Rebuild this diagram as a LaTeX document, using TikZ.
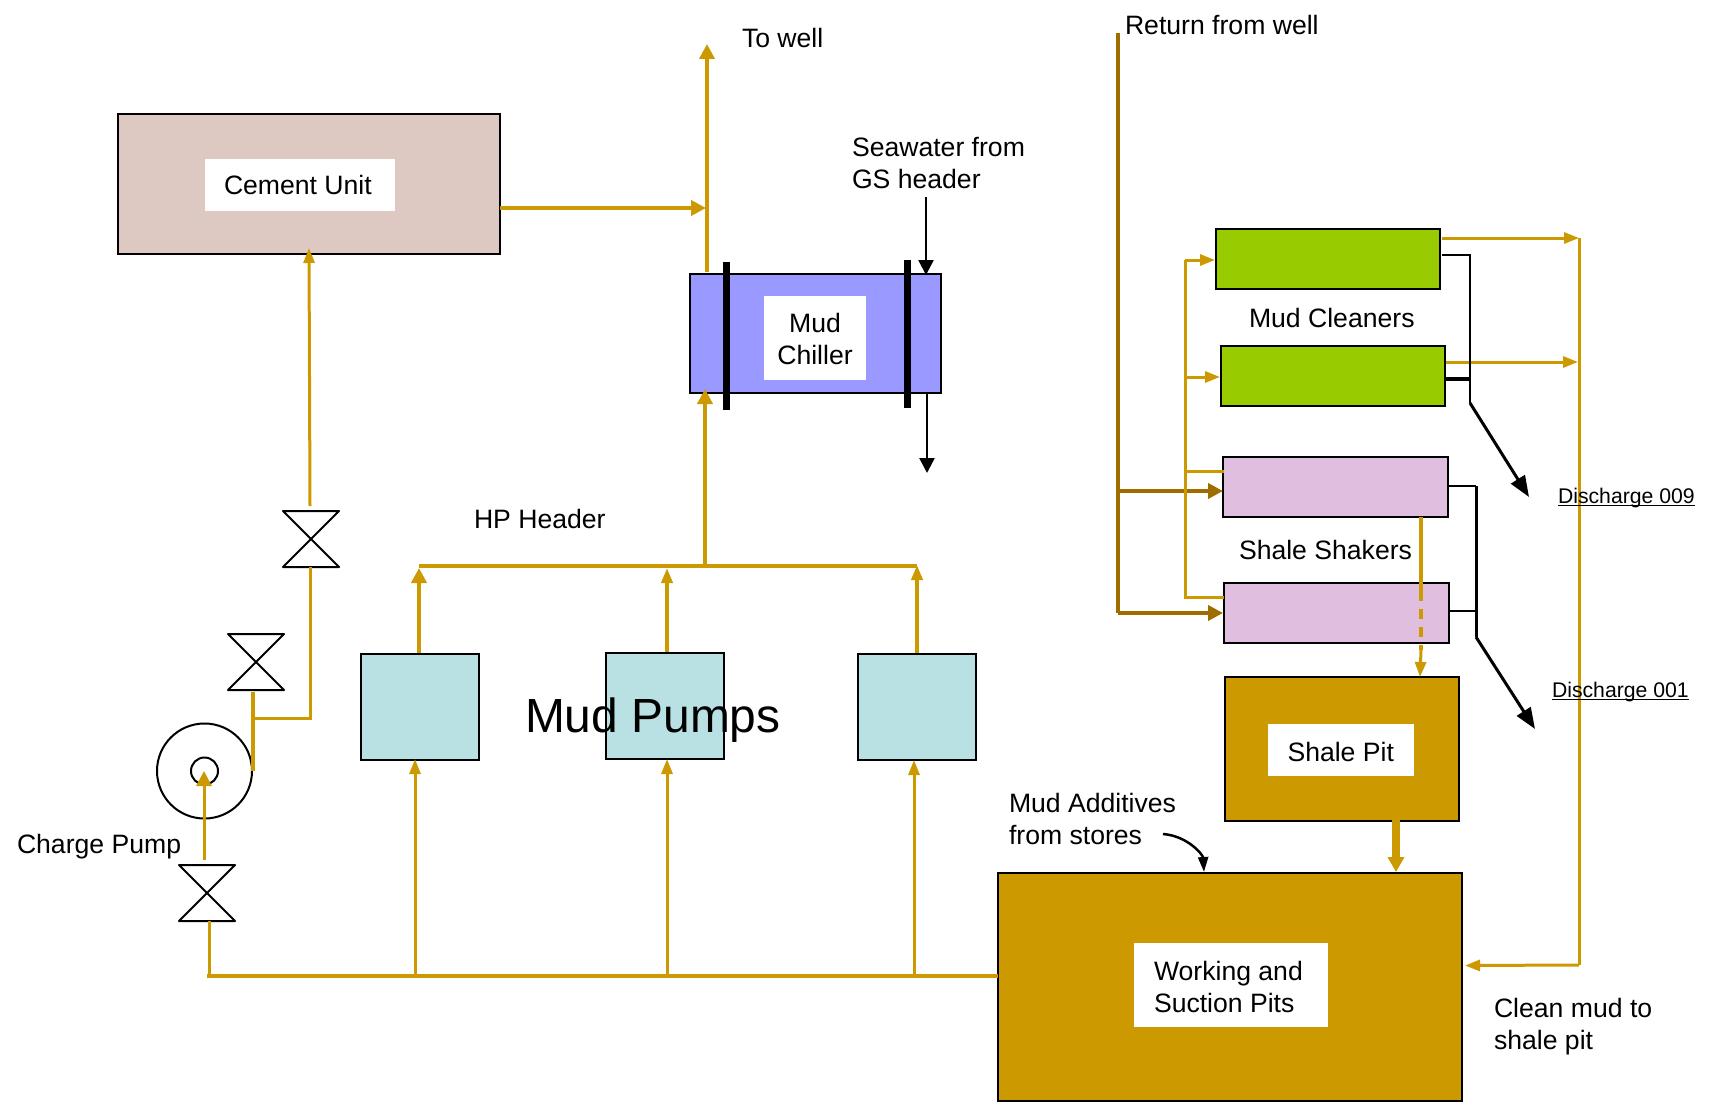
\documentclass[tikz,border=0pt]{standalone}
\usepackage{fontspec}
\setmainfont{Liberation Sans}
\usetikzlibrary{arrows.meta}
\definecolor{gold}{HTML}{CC9900}
\definecolor{brownline}{HTML}{A06C00}
\definecolor{cementc}{HTML}{DDC9C2}
\definecolor{chillerc}{HTML}{9999FF}
\definecolor{pumpc}{HTML}{B9E0E2}
\definecolor{cleanerc}{HTML}{99CC00}
\definecolor{shakerc}{HTML}{E0BEE0}
\tikzset{
  box/.style={draw=black,line width=2pt,inner sep=0pt,outer sep=0pt},
  whitebox/.style={fill=white,inner sep=0pt,outer sep=0pt},
  lbl/.style={inner sep=0pt,outer sep=0pt,anchor=base west,font=\fontsize{26.6}{32}\selectfont,align=left},
  dis/.style={inner sep=0pt,outer sep=0pt,anchor=base west,font=\fontsize{21.2}{25}\selectfont},
  underl/.style={draw=black,line width=1.5pt},
  goldthin/.style={draw=gold,line width=3pt},
  goldthick/.style={draw=gold,line width=4pt},
  brownpipe/.style={draw=brownline,line width=4.5pt},
  blackpipe/.style={draw=black,line width=2.5pt},
  headS/.style={-{Triangle[length=15pt,width=11pt]}},
  headL/.style={-{Triangle[length=15pt,width=15pt]}},
  headB/.style={-{Triangle[length=21pt,width=16pt]}},
  valveshape/.style={draw=black,line width=2pt,line join=round},
  chillerbar/.style={draw=black,line width=7pt},
}
\begin{document}
\begin{tikzpicture}[x=1pt,y=-1pt]
\useasboundingbox (0,0) rectangle (1712,1110);
% equipment
\node[box,fill=cementc,minimum width=382pt,minimum height=140pt] (cement) at (308.5,184) {};
\node[whitebox,minimum width=190pt,minimum height=52pt] (cementbg) at (300,185) {};
\node[box,fill=chillerc,minimum width=251pt,minimum height=119pt] (chiller) at (815,333) {};
\node[whitebox,minimum width=102pt,minimum height=84pt] (chillerbg) at (815,338) {};
\node[box,fill=pumpc,minimum width=118pt,minimum height=106pt] (pumpA) at (419.5,707) {};
\node[box,fill=pumpc,minimum width=118pt,minimum height=106pt] (pumpB) at (664.5,706) {};
\node[box,fill=pumpc,minimum width=118pt,minimum height=106pt] (pumpC) at (916.5,707) {};
\node[box,fill=cleanerc,minimum width=224pt,minimum height=60pt] (cleanerA) at (1328,259) {};
\node[box,fill=cleanerc,minimum width=224pt,minimum height=60pt] (cleanerB) at (1333,376) {};
\node[box,fill=shakerc,minimum width=225pt,minimum height=60pt] (shakerA) at (1335,487) {};
\node[box,fill=shakerc,minimum width=225pt,minimum height=60pt] (shakerB) at (1336,613) {};
\node[box,fill=gold,minimum width=234pt,minimum height=144pt] (shalepit) at (1341.5,748.5) {};
\node[whitebox,minimum width=146pt,minimum height=52pt] (shalepitbg) at (1341,750) {};
\node[box,fill=gold,minimum width=464pt,minimum height=228pt] (workpit) at (1229.5,986.5) {};
\node[whitebox,minimum width=194pt,minimum height=84pt] (workpitbg) at (1231,985) {};
\node[lbl] (cementlbl) at (224,194.5) {Cement Unit};
\node[lbl,align=center,anchor=base] (chillerlbl) at (815,364) {Mud\\Chiller};
\node[lbl] (shalepitlbl) at (1287.5,761) {Shale Pit};
\node[lbl] (workpitlbl) at (1154,1012) {Working and\\Suction Pits};
% chiller bars
\coordinate (barAt) at (726.5,262); \coordinate (barAb) at (726.5,410);
\coordinate (barBt) at (907.5,260); \coordinate (barBb) at (907.5,408);
\draw[chillerbar] (barAt) -- (barAb);
\draw[chillerbar] (barBt) -- (barBb);
% pump symbol
\node[draw=black,line width=2pt,circle,minimum size=95pt,inner sep=0pt,outer sep=0pt] (chargepump) at (204.5,771) {};
\node[draw=black,line width=2pt,circle,minimum size=27pt,inner sep=0pt,outer sep=0pt] (chargeeye) at (204.5,771) {};
% valves
\draw[valveshape] (283,511) -- (339,511) -- (283,567) -- (339,567) -- cycle;
\draw[valveshape] (228,634) -- (284,634) -- (228,690) -- (284,690) -- cycle;
\draw[valveshape] (179,865) -- (235,865) -- (179,921) -- (235,921) -- cycle;
% junction coordinates
\coordinate (cementIn) at (309,248);
\coordinate (vAtop) at (310,506);
\coordinate (vAbot) at (310,567);
\coordinate (riseJ) at (310,718);
\coordinate (pumpJ) at (253,718);
\coordinate (pumpOut) at (253,771);
\coordinate (vBbot) at (253,692);
\coordinate (vCtop) at (204,860);
\coordinate (eyeIn) at (204,771);
\coordinate (vCbot) at (209,921);
\coordinate (suctL) at (209,976);
\coordinate (suctA) at (415,976);
\coordinate (suctB) at (667,976);
\coordinate (suctC) at (914,976);
\coordinate (suctR) at (998,976);
\coordinate (pumpAin) at (415,759);
\coordinate (pumpBin) at (667,759);
\coordinate (pumpCin) at (914,760);
\coordinate (hpL) at (419,565.5);
\coordinate (hpR) at (917,565.5);
\coordinate (hpM) at (705,565.5);
\coordinate (pumpAout) at (419,653);
\coordinate (pumpBout) at (667,652);
\coordinate (pumpCout) at (917,653);
\coordinate (hpAtip) at (419,568);
\coordinate (hpBtip) at (667,568);
\coordinate (hpCtip) at (917,565);
\coordinate (chillerIn) at (705,389);
\coordinate (chillerOut) at (707,272);
\coordinate (towell) at (707,44);
\coordinate (cementOut) at (500,208);
\coordinate (wellJ) at (706,208);
\coordinate (seaTop) at (926,197);
\coordinate (seaTip) at (926,275);
\coordinate (seaOutA) at (927,394);
\coordinate (seaOutB) at (927,473);
% suction and charge lines
\draw[goldthin] (vCbot) -- (suctL);
\draw[goldthick,line width=3.5pt] ([xshift=-2pt]suctL) -- (suctR);
\draw[goldthin,headL] (vCtop) -- (eyeIn);
\draw[goldthick,line width=3.5pt] (pumpOut) -- (vBbot);
\draw[goldthin] (pumpJ) -- (riseJ) -- (vAbot);
\draw[goldthin,headS] (vAtop) -- (cementIn);
% pumps in/out
\draw[goldthin,headS] (suctA) -- (pumpAin);
\draw[goldthin,headS] (suctB) -- (pumpBin);
\draw[goldthin,headS] (suctC) -- (pumpCin);
\draw[goldthick,headL] (pumpAout) -- (hpAtip);
\draw[goldthick,headS] (pumpBout) -- (hpBtip);
\draw[goldthick,headS] (pumpCout) -- (hpCtip);
\draw[goldthick] (hpL) -- (hpR);
\draw[goldthick,headL] (hpM) -- (chillerIn);
\draw[goldthick,headL] (chillerOut) -- (towell);
\draw[goldthick,headL] (cementOut) -- (wellJ);
\draw[blackpipe,headL] (seaTop) -- (seaTip);
\draw[blackpipe,headL] (seaOutA) -- (seaOutB);
% return from well
\coordinate (retTop) at (1118,33);
\coordinate (retA) at (1118,491);
\coordinate (retB) at (1118,613);
\coordinate (shAin) at (1223,491);
\coordinate (shBin) at (1223,613);
\draw[brownpipe] (retTop) -- (retB);
\draw[brownpipe,headL] (retA) -- (shAin);
\draw[brownpipe,headL] (retB) -- (shBin);
% feed manifold
\coordinate (feedTop) at (1185,260);
\coordinate (feedB) at (1185,377);
\coordinate (feedBot) at (1185,597);
\coordinate (clAin) at (1215,260);
\coordinate (clBin) at (1220,377);
\coordinate (shBfeed) at (1224,597);
\coordinate (shAfeedL) at (1187,471);
\coordinate (shAfeedR) at (1224,471);
\draw[goldthin] (feedTop) -- (feedBot) -- (shBfeed);
\draw[goldthin,headS] (feedTop) -- (clAin);
\draw[goldthin,headS] (feedB) -- (clBin);
\draw[goldthick,line width=3pt] (shAfeedL) -- (shAfeedR);
% clean mud return
\coordinate (clAout) at (1442,238);
\coordinate (clBout) at (1446,362);
\coordinate (retRtop) at (1579,238);
\coordinate (retRmid) at (1578,362);
\coordinate (retRbot) at (1579,965);
\coordinate (pitIn) at (1465,965.5);
\draw[goldthin,headS] (clAout) -- (retRtop);
\draw[goldthin,headS] (clBout) -- (retRmid);
\draw[goldthin] (retRtop) -- (retRbot);
\draw[goldthin,headS] (retRbot) -- (pitIn);
% discharge 009
\coordinate (dAout) at (1442,255);
\coordinate (dAcorner) at (1470,255);
\coordinate (dBout) at (1445,379);
\coordinate (dBjoin) at (1470,379);
\coordinate (dAbot) at (1470,403);
\coordinate (dAtip) at (1529,497);
\draw[blackpipe] (dAout) -- (dAcorner) -- (dAbot);
\draw[blackpipe,line width=3.5pt] (dBout) -- (dBjoin);
\draw[blackpipe,line width=3pt,headB] (dAbot) -- (dAtip);
% discharge 001
\coordinate (sAout) at (1448,486);
\coordinate (sAcorner) at (1476,486);
\coordinate (sBout) at (1449,611);
\coordinate (sBjoin) at (1476,611);
\coordinate (sAbot) at (1476,637);
\coordinate (sAtip) at (1535,729);
\draw[blackpipe] (sAout) -- (sAcorner);
\draw[blackpipe,line width=3pt] (sAcorner) -- (sAbot);
\draw[blackpipe] (sBout) -- (sBjoin);
\draw[blackpipe,line width=3pt,headB] (sAbot) -- (sAtip);
% shale pit
\coordinate (shOut) at (1421,517);
\coordinate (shMid) at (1421,591);
\coordinate (shDash) at (1421,650);
\coordinate (shTip) at (1420,677);
\draw[goldthick,line width=3.5pt] (shOut) -- (shMid);
\draw[goldthick,line width=3.5pt,dash pattern=on 10pt off 8pt] (shMid) -- (shDash);
\draw[goldthin,headS] (shDash) -- (shTip);
\coordinate (pitOut) at (1396,820);
\coordinate (pitInTop) at (1396,872);
\draw[gold,line width=8pt,-{Triangle[length=15pt,width=16pt]}] (pitOut) -- (pitInTop);
% additives
\coordinate (addA) at (1163,834);
\coordinate (addB) at (1204,872);
\draw[blackpipe,-{Triangle[length=15pt,width=10pt]}] (addA) .. controls (1188,836) and (1203,855) .. (addB);
% labels
\node[lbl] (towelllbl) at (742,48) {To well};
\node[lbl] (returnlbl) at (1125,35) {Return from well};
\node[lbl] (sealbl) at (852,189) {Seawater from\\GS header};
\node[lbl] (hplbl) at (474,528) {HP Header};
\node[lbl] (chargelbl) at (17,853) {Charge Pump};
\node[inner sep=0pt,outer sep=0pt,anchor=base west,font=\fontsize{47.9}{56}\selectfont] (pumpslbl) at (525,732) {Mud Pumps};
\node[lbl] (cleanerslbl) at (1249,327) {Mud Cleaners};
\node[lbl] (shakerslbl) at (1239,559) {Shale Shakers};
\node[dis] (dis9) at (1558,503) {Discharge 009};
\node[dis] (dis1) at (1552,697) {Discharge 001};
\draw[underl] ([yshift=-2.5pt]dis9.base west) -- ([yshift=-2.5pt]dis9.base east);
\draw[underl] ([yshift=-2.5pt]dis1.base west) -- ([yshift=-2.5pt]dis1.base east);
\node[lbl] (addlbl) at (1009,844) {Mud Additives\\from stores};
\node[lbl] (cleanlbl) at (1494,1049) {Clean mud to\\shale pit};
\end{tikzpicture}
\end{document}
